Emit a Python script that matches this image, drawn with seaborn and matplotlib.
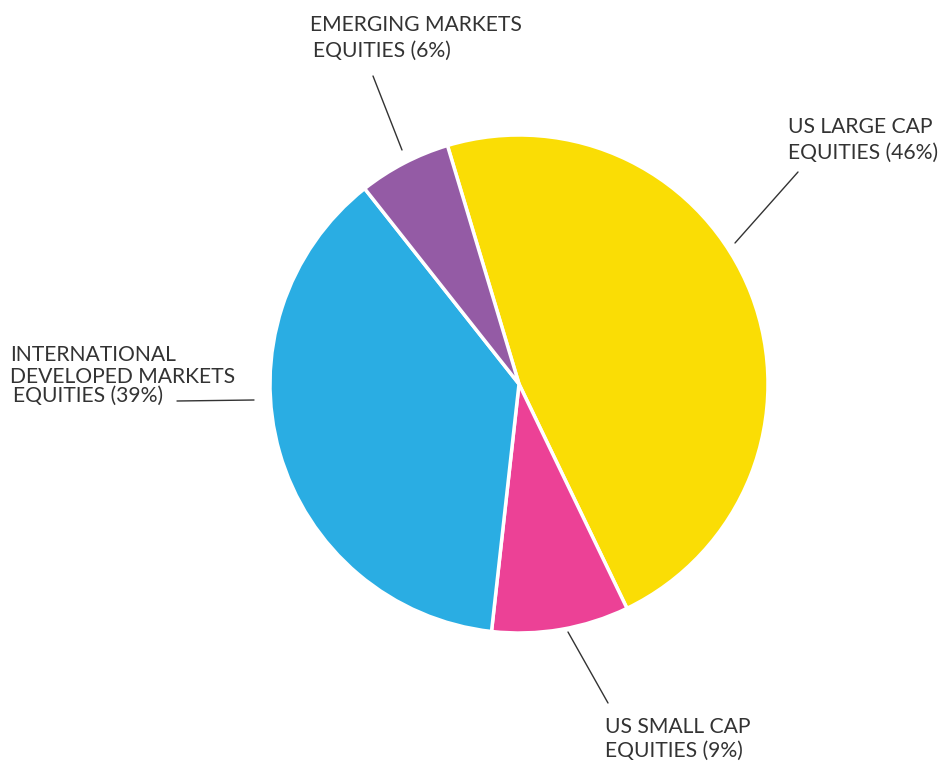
import matplotlib
matplotlib.use("Agg")
import matplotlib.pyplot as plt
import seaborn as sns

# Data (slice shares, label text as printed)
categories = ["US LARGE CAP\nEQUITIES", "US SMALL CAP\nEQUITIES",
              "INTERNATIONAL\nDEVELOPED MARKETS\nEQUITIES", "EMERGING MARKETS\nEQUITIES"]
slice_shares = [47.5, 8.9, 37.6, 6.0]
label_pcts = [46, 9, 39, 6]
colors = ["#FADD05", "#EC4196", "#2AADE3", "#945BA5"]

sns.set_theme(style="white")
plt.rcParams['font.family'] = ['Lato', 'DejaVu Sans']

W, H = 941, 761
fig = plt.figure(figsize=(W / 100, H / 100), dpi=100)
ax = fig.add_axes([0, 0, 1, 1])

palette = sns.color_palette(colors)

def Y(ypx):
    return H - ypx

ax.pie(slice_shares, colors=palette, startangle=106.7, counterclock=False,
       center=(519, Y(384)), radius=249,
       wedgeprops=dict(edgecolor="white", linewidth=2.5))
ax.set_xlim(0, W)
ax.set_ylim(0, H)
ax.set_aspect('equal', adjustable='box')
ax.axis('off')

txt_color = "#333333"
fs = 15.2

def lines_for(i):
    parts = categories[i].split("\n")
    parts[-1] = f"{parts[-1]} ({label_pcts[i]}%)"
    return parts

# label placements: (x positions per line, baselines per line)
placements = {
    0: ([788, 788], [133, 159]),
    1: ([605, 605], [733, 757]),
    2: ([10, 10, 13], [361, 383, 402]),
    3: ([310, 313], [31, 57]),
}
for i, (xs, ys) in placements.items():
    for t, x, y in zip(lines_for(i), xs, ys):
        ax.text(x, Y(y), t, fontsize=fs, color=txt_color, ha='left', va='baseline',
                fontweight='normal')

leaders = [
    ((798, 172), (735, 243)),
    ((568, 632), (608, 703)),
    ((177, 401), (254, 400)),
    ((373, 76), (402, 150)),
]
for (x0, y0), (x1, y1) in leaders:
    ax.plot([x0, x1], [Y(y0), Y(y1)], color="#333333", lw=1.0)

fig.savefig("out.png", dpi=100, facecolor="white")
